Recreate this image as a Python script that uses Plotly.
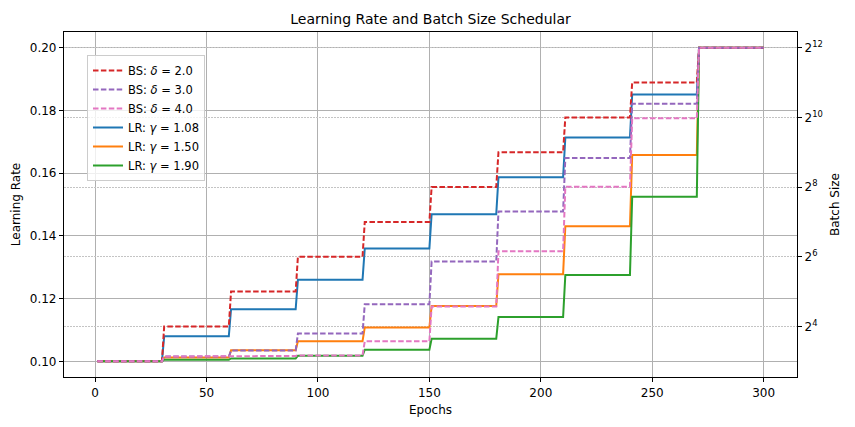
import numpy as np
import plotly.graph_objects as go

# ---- data ----
epochs = list(range(1, 301))
step_len = 30  # epochs per stage

lr_labels = ["LR: <i>γ</i> = 1.08", "LR: <i>γ</i> = 1.50", "LR: <i>γ</i> = 1.90"]
lr_g108 = [0.1000, 0.1080, 0.1166, 0.1260, 0.1360, 0.1469, 0.1587, 0.1714, 0.1851, 0.2000]
lr_g150 = [0.1000, 0.1012, 0.1035, 0.1064, 0.1108, 0.1176, 0.1278, 0.1431, 0.1658, 0.2000]
lr_g190 = [0.1000, 0.1005, 0.1009, 0.1018, 0.1037, 0.1072, 0.1141, 0.1275, 0.1525, 0.2000]

bs_labels = ["BS: <i>δ</i> = 2.0", "BS: <i>δ</i> = 3.0", "BS: <i>δ</i> = 4.0"]
bs_d20 = [8, 16, 32, 64, 128, 256, 512, 1024, 2048, 4096]
bs_d30 = [8, 8.8, 9.9, 13.9, 24.9, 58.2, 157.6, 456, 1346, 4096]
bs_d40 = [8, 8.8, 8.9, 9.0, 11.9, 23.8, 71.4, 258, 1004, 4096]

x_ticks = [0, 50, 100, 150, 200, 250, 300]
lr_ticks = [0.10, 0.12, 0.14, 0.16, 0.18, 0.20]
bs_tick_exps = [4, 6, 8, 10, 12]

lr_colors = ["#1f77b4", "#ff7f0e", "#2ca02c"]
bs_colors = ["#d62728", "#9467bd", "#e377c2"]


def expand(levels):
    return [levels[(e - 1) // step_len] for e in epochs]


fig = go.Figure()
FONT = "DejaVu Sans"

for i, (lab, lev) in enumerate(zip(lr_labels, [lr_g108, lr_g150, lr_g190])):
    fig.add_trace(go.Scatter(
        x=epochs, y=expand(lev), mode="lines", name=lab,
        line=dict(color=lr_colors[i], width=2), yaxis="y",
        legendrank=4 + i))

for i, (lab, lev) in enumerate(zip(bs_labels, [bs_d20, bs_d30, bs_d40])):
    fig.add_trace(go.Scatter(
        x=epochs, y=expand(lev), mode="lines", name=lab,
        line=dict(color=bs_colors[i], width=2, dash="5.5px,2.4px"), yaxis="y2",
        legendrank=1 + i))

xmin, xmax = 1, 300
xpad = 0.05 * (xmax - xmin)
ypad = 0.05 * (max(lr_g108) - min(lr_g108))
e_lo, e_hi = np.log2(min(bs_d20)), np.log2(max(bs_d20))
epad = 0.05 * (e_hi - e_lo)

axis_common = dict(
    showline=True, linecolor="black", linewidth=1.2,
    ticks="outside", ticklen=4, tickcolor="black", tickwidth=1,
    tickfont=dict(family=FONT, size=12, color="black"),
    zeroline=False, automargin=False,
)

fig.update_layout(
    width=855, height=427,
    margin=dict(l=64, r=58, t=32, b=50),
    paper_bgcolor="white", plot_bgcolor="white",
    font=dict(family=FONT, size=12, color="black"),
    title=dict(text="Learning Rate and Batch Size Schedular",
               x=(64 + 797) / 2 / 855, xanchor="center", y=0.955, yanchor="middle",
               font=dict(family=FONT, size=14, color="black")),
    xaxis=dict(
        range=[xmin - xpad, xmax + xpad], tickvals=x_ticks,
        title=dict(text="Epochs", font=dict(family=FONT, size=12), standoff=7),
        showgrid=True, gridcolor="#b0b0b0", gridwidth=1, mirror=True,
        **axis_common),
    yaxis=dict(
        range=[min(lr_g108) - ypad, max(lr_g108) + ypad], tickvals=lr_ticks,
        tickformat=".2f",
        title=dict(text="Learning Rate", font=dict(family=FONT, size=12), standoff=6),
        showgrid=True, gridcolor="#b0b0b0", gridwidth=1,
        **axis_common),
    yaxis2=dict(
        overlaying="y", side="right", type="log",
        range=[np.log10(2 ** (e_lo - epad)), np.log10(2 ** (e_hi + epad))],
        tickvals=[2 ** k for k in bs_tick_exps],
        ticktext=[f"2<sup>{k}</sup>" for k in bs_tick_exps],
        title=dict(text="Batch Size", font=dict(family=FONT, size=12), standoff=8),
        showgrid=True, gridcolor="#c4c4c4", gridwidth=1, griddash="1.5px,1.5px",
        **axis_common),
    legend=dict(
        x=(87 - 64) / 733, y=(377 - 55) / 345, xanchor="left", yanchor="top",
        bgcolor="rgba(255,255,255,0.8)", bordercolor="#cccccc", borderwidth=1,
        font=dict(family=FONT, size=11.5, color="black"),
        tracegroupgap=0, itemwidth=30,
    ),
    showlegend=True,
)

fig.write_html("out.html", config={"displayModeBar": False},
               post_script="document.body.style.margin='0';")
